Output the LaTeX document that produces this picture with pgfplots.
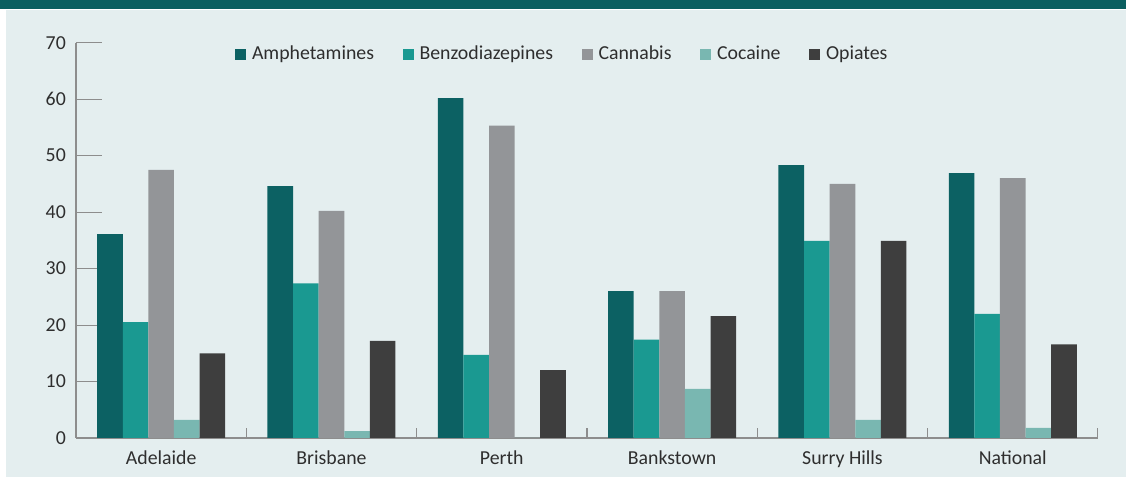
\documentclass[border=0pt]{standalone}
\usepackage{fontspec}
\setmainfont{Carlito}
\usepackage{pgfplots}
\pgfplotsset{compat=1.18}
\definecolor{amph}{HTML}{0C6163}
\definecolor{benzo}{HTML}{1A9991}
\definecolor{cann}{HTML}{939598}
\definecolor{coca}{HTML}{79B7B1}
\definecolor{opia}{HTML}{3E3E3E}
\definecolor{bgc}{HTML}{E4EEEF}
\definecolor{titlebar}{HTML}{0B5F60}
\definecolor{axisgray}{HTML}{8D8D8D}
\definecolor{txt}{HTML}{2E2E2E}
\begin{document}
\fontsize{19.8bp}{23bp}\selectfont
\begin{tikzpicture}[x=1bp,y=1bp]
\path[use as bounding box] (-76,-40) rectangle (1050,438);
\fill[white] (-76,-40) rectangle (1050,438);
\fill[titlebar] (-76,429) rectangle (1050,438);
\fill[bgc] (-70,-39) rectangle (1050,427.5);
\begin{axis}[
  at={(0,0)}, anchor=south west,
  scale only axis, width=1022bp, height=395.3bp,
  ymin=0, ymax=70, xmin=-0.5, xmax=5.5,
  enlargelimits=false, clip=false,
  ybar=0pt, bar width=25.6bp,
  axis x line*=bottom, axis y line*=left,
  axis line style={draw=axisgray, line width=1.3bp, -},
  ytick={0,10,...,70},
  major tick length=25.7bp, tick align=inside,
  ytick style={draw=axisgray, line width=1.1bp},
  xtick={0,...,5},
  xticklabels={Adelaide,Brisbane,Perth,Bankstown,Surry Hills,National},
  xtick style={draw=none},
  extra x ticks={0.5,1.5,2.5,3.5,4.5,5.5},
  extra x tick labels={},
  extra x tick style={major tick length=10bp, xtick style={draw=axisgray, line width=1.1bp}},
  /pgf/number format/assume math mode=true,
  yticklabel style={anchor=east, inner sep=0pt, xshift=-10bp, text=txt, font=\fontsize{19.8bp}{23bp}\selectfont},
  xticklabel style={anchor=base, inner sep=0pt, yshift=-26.3bp, text=txt, font=\fontsize{19.8bp}{23bp}\selectfont},
  legend columns=5,
  legend style={at={(0.1556,0.971)}, anchor=west, draw=none, fill=none,
    inner sep=0pt, outer sep=0pt,
    font=\fontsize{19.8bp}{23bp}\selectfont, text=txt,
    nodes={inner sep=0pt},
    /tikz/every odd column/.append style={column sep=6bp},
    /tikz/every even column/.append style={column sep=28.5bp}},
  legend image code/.code={\fill[#1] (0bp,-5.5bp) rectangle (11bp,5.5bp);},
]
\addplot[fill=amph, draw=none] coordinates {(0,36.1) (1,44.6) (2,60.2) (3,26.0) (4,48.3) (5,46.9)};
\addplot[fill=benzo, draw=none] coordinates {(0,20.5) (1,27.4) (2,14.7) (3,17.4) (4,34.9) (5,22.0)};
\addplot[fill=cann, draw=none] coordinates {(0,47.5) (1,40.2) (2,55.3) (3,26.0) (4,45.0) (5,46.0)};
\addplot[fill=coca, draw=none] coordinates {(0,3.2) (1,1.2) (2,0) (3,8.7) (4,3.2) (5,1.8)};
\addplot[fill=opia, draw=none] coordinates {(0,15.0) (1,17.2) (2,12.0) (3,21.6) (4,34.9) (5,16.6)};
\legend{Amphetamines,Benzodiazepines,Cannabis,Cocaine,Opiates}
\end{axis}
\end{tikzpicture}
\end{document}
